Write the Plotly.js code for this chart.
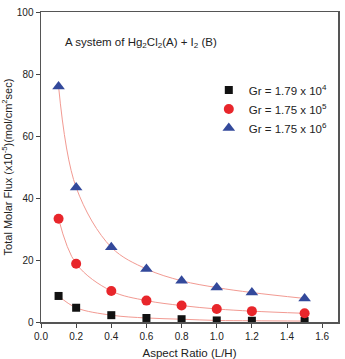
<!DOCTYPE html>
<html><head><meta charset="utf-8">
<script src="https://cdn.plot.ly/plotly-3.0.1.min.js"></script>
<style>html,body{margin:0;padding:0;background:#fff}#c{width:345px;height:359px}</style>
</head><body><div id="c"></div>
<script>
var aspect = [0.1, 0.2, 0.4, 0.6, 0.8, 1.0, 1.2, 1.5];
var gr1 = [8.4, 4.6, 2.2, 1.3, 0.9, 0.5, 0.4, 0.3];
var gr2 = [33.3, 18.8, 10.0, 6.9, 5.3, 4.2, 3.5, 2.8];
var gr3 = [76.0, 43.4, 24.1, 17.1, 13.3, 11.1, 9.5, 7.6];
var names = ['Gr = 1.79 x 10<sup>4</sup>', 'Gr = 1.75 x 10<sup>5</sup>', 'Gr = 1.75 x 10<sup>6</sup>'];
var xticks = [0.0, 0.2, 0.4, 0.6, 0.8, 1.0, 1.2, 1.4, 1.6];

var series = [gr1, gr2, gr3];
var symbols = ['square', 'circle', 'triangle-up'];
var colors = ['#111111', '#e8262b', '#33499b'];
var sizes = [8, 10, 11];
var traces = [];
series.forEach(function(s){
  traces.push({x: aspect, y: s, mode: 'lines', line: {shape: 'spline', smoothing: 1, color: '#f29a92', width: 1}, showlegend: false, hoverinfo: 'skip'});
});
series.forEach(function(s, i){
  traces.push({x: aspect, y: s, mode: 'markers', name: names[i], marker: {symbol: symbols[i], color: colors[i], size: sizes[i]}});
});

var layout = {
  width: 345, height: 359,
  margin: {l: 41, r: 7, t: 12, b: 37},
  paper_bgcolor: '#fff', plot_bgcolor: '#fff',
  font: {family: 'Liberation Sans, Arial, sans-serif', size: 10, color: '#222'},
  showlegend: true,
  legend: {x: 0.565, y: 0.795, xanchor: 'left', yanchor: 'top', bgcolor: 'rgba(0,0,0,0)', font: {size: 11.5}, itemwidth: 30, tracegroupgap: 2},
  xaxis: {range: [0, 1.69], tickvals: xticks, ticktext: xticks.map(function(v){return v.toFixed(1);}),
    ticks: 'outside', ticklen: 4, tickcolor: '#444', showline: true, linecolor: '#555', linewidth: 1.5, mirror: true,
    showgrid: false, zeroline: false,
    title: {text: 'Aspect Ratio (L/H)', font: {size: 11.5}, standoff: 8}},
  yaxis: {range: [0, 100], tickvals: [0, 20, 40, 60, 80, 100],
    ticks: 'outside', ticklen: 4, tickcolor: '#444', showline: true, linecolor: '#555', linewidth: 1.5, mirror: true,
    showgrid: false, zeroline: false,
    title: {text: 'Total Molar Flux (x10<sup>-5</sup>)(mol/cm<sup>2</sup>sec)', font: {size: 11}, standoff: 6}},
  annotations: [{xref: 'paper', yref: 'paper', x: 0.075, y: 0.9, xanchor: 'left', yanchor: 'middle', showarrow: false,
    text: 'A system of Hg<sub>2</sub>Cl<sub>2</sub>(A) + I<sub>2</sub> (B)', font: {size: 11.5}}]
};
Plotly.newPlot('c', traces, layout, {displayModeBar: false, staticPlot: true});
</script></body></html>
